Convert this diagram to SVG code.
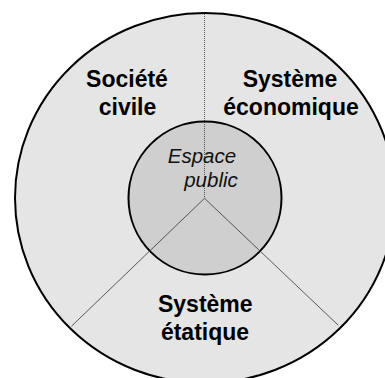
<svg xmlns="http://www.w3.org/2000/svg" width="385" height="378" viewBox="0 0 385 378">
<style>
.lbl{font-family:"Liberation Sans",Arial,sans-serif;font-weight:bold;font-size:23px;fill:#000;text-anchor:middle}
.ital{font-family:"Liberation Sans",Arial,sans-serif;font-style:italic;font-size:20.5px;fill:#111;text-anchor:middle}
.div{stroke:#333;stroke-width:0.8;fill:none}
</style>
<rect width="385" height="378" fill="#fff"/>
<g id="outer">
<ellipse cx="205" cy="198" rx="190" ry="185" fill="#e5e5e5" stroke="#000" stroke-width="2"/>
</g>
<g id="espace-public">
<circle cx="205" cy="198" r="76.5" fill="#cfcfcf" stroke="#000" stroke-width="2"/>
</g>
<g id="connectors">
<line class="div" x1="204.5" y1="14" x2="204.5" y2="198.3" stroke-dasharray="1 1" stroke="#000" stroke-width="1"/>
<line class="div" x1="204.5" y1="198.3" x2="71.5" y2="326.2"/>
<line class="div" x1="204.5" y1="198.3" x2="338.2" y2="325.2"/>
</g>
<g id="societe-civile">
<text class="lbl" x="127" y="86.5">Société</text>
<text class="lbl" x="127.5" y="115">civile</text>
</g>
<g id="systeme-economique">
<text class="lbl" x="290" y="86.5">Système</text>
<text class="lbl" x="291" y="115">économique</text>
</g>
<g id="systeme-etatique">
<text class="lbl" x="205.3" y="311.5">Système</text>
<text class="lbl" x="205" y="340">étatique</text>
</g>
<g id="espace-public-label">
<text class="ital" x="202" y="162.5">Espace</text>
<text class="ital" x="211" y="187.2">public</text>
</g>
</svg>
